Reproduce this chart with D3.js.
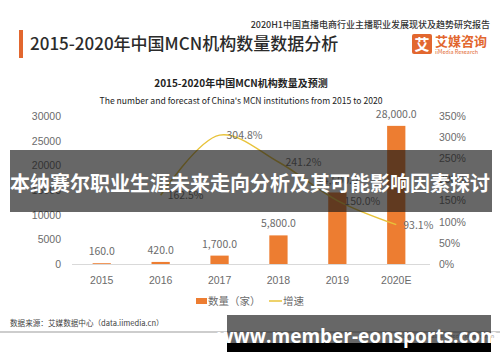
<!DOCTYPE html>
<html>
<head>
<meta charset="utf-8">
<script src="https://cdn.jsdelivr.net/npm/d3@7.9.0/dist/d3.min.js"></script>
<style>
  html, body { margin: 0; padding: 0; background: #fff; }
  svg { display: block; font-family: "Noto Sans CJK SC", "Noto Sans", sans-serif; }
</style>
</head>
<body>
<script>
// chart data
const years = ["2015", "2016", "2017", "2018", "2019", "2020E"];
const counts = [160, 420, 1700, 5800, 14500, 28000];
const growth = [null, 1.625, 3.048, 2.412, 1.5, 0.931];
const leftTicks = [0, 5000, 10000, 15000, 20000, 25000, 30000];
const rightTicks = [0, 0.5, 1, 1.5, 2, 2.5, 3, 3.5];

const width = 500, height = 362;
const svg = d3.select("body").append("svg")
    .attr("width", width)
    .attr("height", height);

// header
svg.append("rect").attr("x", 19).attr("y", 30).attr("width", 4).attr("height", 28).attr("fill", "#e2672f");
svg.append("text")
    .attr("x", 30).attr("y", 50)
    .attr("fill", "#2b2b2b")
    .style("font-size", "17px")
    .style("font-weight", 500)
    .text("2015-2020年中国MCN机构数量数据分析");

svg.append("text")
    .attr("x", 490).attr("y", 28)
    .attr("text-anchor", "end")
    .attr("fill", "#333")
    .style("font-size", "9px")
    .style("font-weight", 500)
    .text("2020H1中国直播电商行业主播职业发展现状及趋势研究报告");

// logo
svg.append("rect").attr("x", 412).attr("y", 34).attr("width", 20).attr("height", 20).attr("rx", 2).attr("fill", "#e2672f");
svg.append("text").attr("x", 422).attr("y", 50).attr("text-anchor", "middle")
    .attr("fill", "#fff").style("font-size", "15px").style("font-weight", 700).text("艾");
svg.append("text").attr("x", 435).attr("y", 46)
    .attr("fill", "#e2672f").style("font-size", "13px").style("font-weight", 700).text("艾媒咨询");
svg.append("text").attr("x", 435).attr("y", 54)
    .attr("fill", "#e2672f").style("font-size", "5.5px").text("iiMedia Research");

// chart titles
svg.append("text").attr("x", 241).attr("y", 87).attr("text-anchor", "middle")
    .attr("fill", "#222").style("font-size", "10px").style("font-weight", 700)
    .text("2015-2020年中国MCN机构数量及预测");
svg.append("text").attr("x", 241).attr("y", 104).attr("text-anchor", "middle")
    .attr("fill", "#222").style("font-size", "8.6px")
    .text("The number and forecast of China's MCN institutions from 2015 to 2020");

// scales
const x = d3.scaleBand().domain(years).range([72, 426]).paddingInner(0.69).paddingOuter(0.35);
const yL = d3.scaleLinear().domain([0, 30000]).range([264, 116]);
const yR = d3.scaleLinear().domain([0, 3.5]).range([264, 116]);

const grey = "#6b6b6b";

// left axis
const axL = svg.append("g").attr("transform", "translate(61,0)")
    .call(d3.axisLeft(yL).tickValues(leftTicks).tickSize(0).tickPadding(0).tickFormat(d3.format("d")));
axL.select(".domain").remove();
axL.selectAll("text").attr("fill", grey).style("font-size", "10.5px").style("font-family", "inherit");

// right axis
const axR = svg.append("g").attr("transform", "translate(439,0)")
    .call(d3.axisRight(yR).tickValues(rightTicks).tickSize(0).tickPadding(0).tickFormat(d3.format(".0%")));
axR.select(".domain").remove();
axR.selectAll("text").attr("fill", grey).style("font-size", "10.5px").style("font-family", "inherit");

// bottom axis
const axB = svg.append("g").attr("transform", "translate(0,264)")
    .call(d3.axisBottom(x).tickSize(0).tickPadding(13));
axB.select(".domain").attr("stroke", "#d9d9d9").attr("d", "M72,0.5H430");
axB.selectAll("text").attr("fill", grey).style("font-size", "10.5px").style("font-family", "inherit");

// bars
svg.selectAll("rect.bar")
    .data(years)
    .enter().append("rect")
    .attr("class", "bar")
    .attr("x", d => x(d))
    .attr("width", x.bandwidth())
    .attr("y", (d, i) => yL(counts[i]))
    .attr("height", (d, i) => 264 - yL(counts[i]))
    .attr("fill", "#ed7d31");

svg.selectAll("text.val")
    .data(years)
    .enter().append("text")
    .attr("class", "val")
    .attr("x", d => x(d) + x.bandwidth() / 2)
    .attr("y", (d, i) => yL(counts[i]) - 8)
    .attr("text-anchor", "middle")
    .attr("fill", grey)
    .style("font-size", "10.5px")
    .text((d, i) => d3.format(",.1f")(counts[i]));

// growth line
const pts = years.map((d, i) => ({ year: d, g: growth[i] })).filter(p => p.g !== null);
const line = d3.line()
    .x(p => x(p.year) + x.bandwidth() / 2)
    .y(p => yR(p.g))
    .curve(d3.curveCatmullRom.alpha(0.5));
svg.append("path")
    .datum(pts)
    .attr("d", line)
    .attr("fill", "none")
    .attr("stroke", "#e8c33a")
    .attr("stroke-width", 1.5);

svg.selectAll("text.gr")
    .data(pts)
    .enter().append("text")
    .attr("class", "gr")
    .attr("x", p => x(p.year) + x.bandwidth() / 2 + 7)
    .attr("y", p => yR(p.g) + 4)
    .attr("fill", grey)
    .style("font-size", "10.5px")
    .text(p => d3.format(".1%")(p.g));

// legend
svg.append("rect").attr("x", 196).attr("y", 298).attr("width", 11).attr("height", 6).attr("fill", "#ed7d31");
svg.append("text").attr("x", 208).attr("y", 305).attr("fill", grey).style("font-size", "10.5px").text("数量（家）");
svg.append("line").attr("x1", 269).attr("x2", 282).attr("y1", 301).attr("y2", 301)
    .attr("stroke", "#e8c33a").attr("stroke-width", 1.5);
svg.append("text").attr("x", 283).attr("y", 305).attr("fill", grey).style("font-size", "10.5px").text("增速");

// footer
svg.append("text").attr("x", 10).attr("y", 326).attr("fill", "#444").style("font-size", "7.6px")
    .text("数据来源：艾媒数据中心（data.iimedia.cn）");
svg.append("line").attr("x1", 0).attr("x2", 500).attr("y1", 332).attr("y2", 332)
    .attr("stroke", "#bdbdbd").attr("stroke-width", 1.5);
svg.append("text").attr("x", 497).attr("y", 338).attr("text-anchor", "end")
    .attr("fill", "#999").style("font-size", "5.5px")
    .text("Copyright © 2020 iiMedia Research Inc");

// overlay bands
svg.append("rect").attr("x", 10).attr("y", 150).attr("width", 482).attr("height", 62)
    .attr("fill", "rgba(25,25,25,0.66)");
svg.append("text").attr("x", 250).attr("y", 191).attr("text-anchor", "middle")
    .attr("fill", "#fff").style("font-size", "20px").style("font-weight", 700)
    .text("本纳赛尔职业生涯未来走向分析及其可能影响因素探讨");

svg.append("rect").attr("x", 227).attr("y", 315).attr("width", 264).attr("height", 28)
    .attr("fill", "rgba(25,25,25,0.66)");
svg.append("rect").attr("x", 227).attr("y", 343).attr("width", 264).attr("height", 9)
    .attr("fill", "#000");
svg.append("text").attr("x", 358).attr("y", 343).attr("text-anchor", "middle")
    .attr("fill", "#fff").style("font-size", "19px").style("font-weight", 700)
    .style("font-family", "'Open Sans', sans-serif")
    .text("www.member-eonsports.com");
</script>
</body>
</html>
